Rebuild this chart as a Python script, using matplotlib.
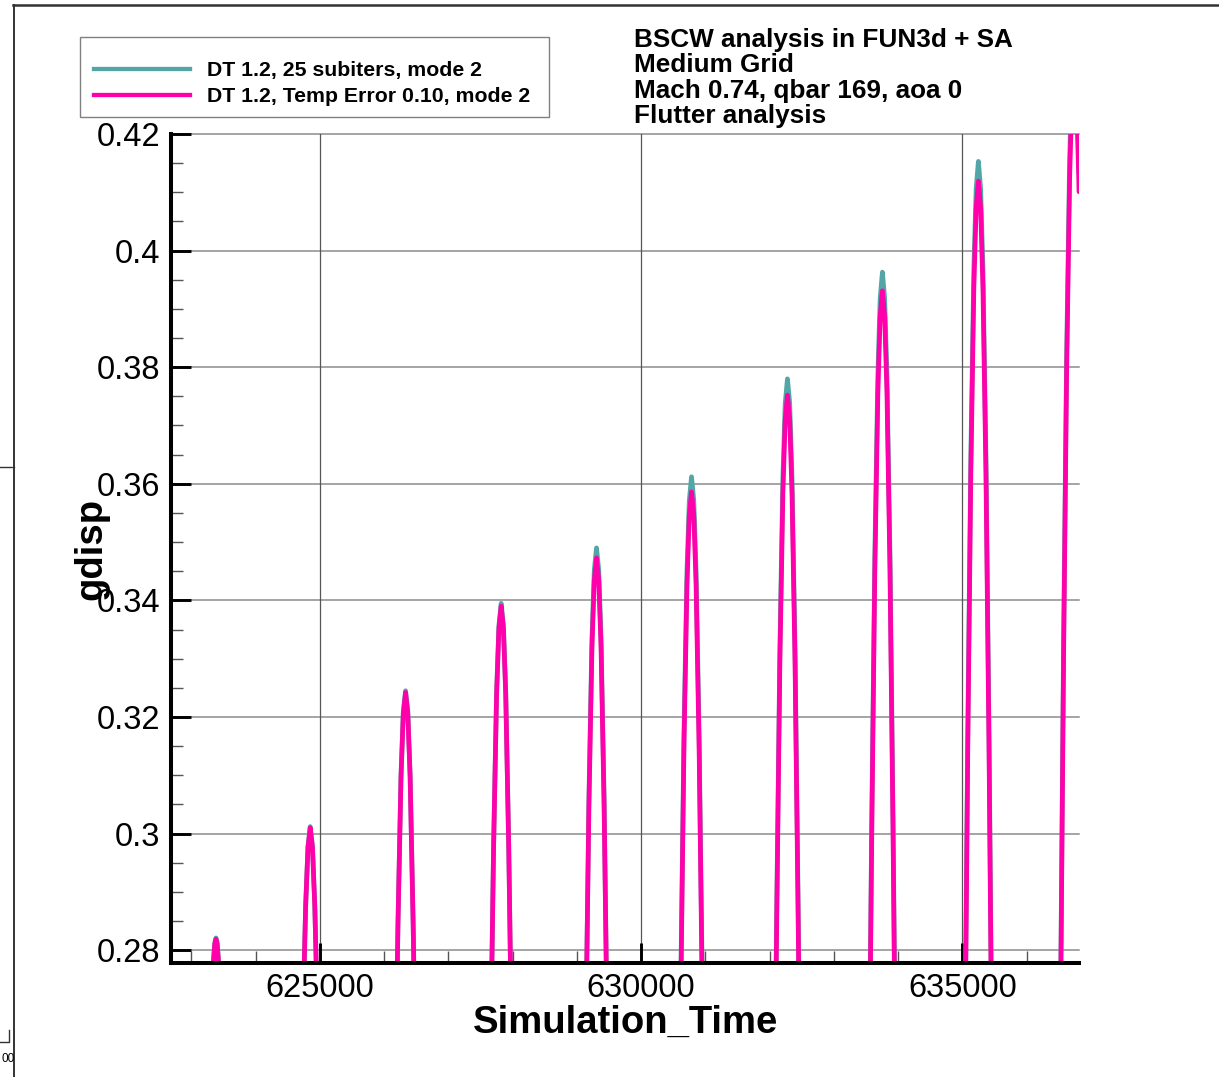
import numpy as np
import matplotlib
matplotlib.use('Agg')
import matplotlib.pyplot as plt
from matplotlib.lines import Line2D
from matplotlib.patches import Rectangle
from matplotlib.ticker import FixedLocator, MultipleLocator, FuncFormatter

plt.rcParams['font.family'] = ['Liberation Sans', 'DejaVu Sans']

# --- data: one list per visible hump (Simulation_Time, gdisp) ---
hump_times = [
    [623330, 623347, 623364, 623382, 623400, 623417, 623434],
    [624750, 624778, 624814, 624849, 624884, 624920, 624948],
    [626201, 626215, 626262, 626298, 626333, 626368, 626404, 626451, 626465],
    [627673, 627703, 627750, 627786, 627821, 627856, 627892, 627939, 627969],
    [629150, 629187, 629234, 629270, 629305, 629340, 629376, 629423, 629460],
    [630619, 630666, 630713, 630749, 630784, 630819, 630855, 630902, 630949],
    [632100, 632112, 632159, 632206, 632242, 632277, 632312, 632348, 632395, 632442, 632454],
    [633567, 633590, 633637, 633684, 633720, 633755, 633790, 633826, 633873, 633920, 633943],
    [635051, 635084, 635131, 635178, 635214, 635249, 635284, 635320, 635367, 635414, 635447],
    [636532, 636575, 636622, 636669, 636705, 636740, 636775, 636811, 636815],
]
# DT 1.2, 25 subiters, mode 2
subiter_vals = [
    [0.275, 0.2789, 0.2813, 0.2821, 0.2813, 0.2789, 0.275],
    [0.275, 0.2877, 0.2978, 0.3012, 0.2978, 0.2877, 0.275],
    [0.275, 0.2848, 0.3100, 0.3209, 0.3245, 0.3209, 0.3100, 0.2848, 0.275],
    [0.275, 0.2979, 0.3243, 0.3357, 0.3395, 0.3357, 0.3243, 0.2979, 0.275],
    [0.275, 0.3063, 0.3334, 0.3451, 0.3490, 0.3451, 0.3334, 0.3063, 0.275],
    [0.2763, 0.3170, 0.3451, 0.3571, 0.3612, 0.3571, 0.3451, 0.3170, 0.2763],
    [0.2768, 0.2891, 0.3317, 0.3611, 0.3738, 0.3780, 0.3738, 0.3611, 0.3317, 0.2891, 0.2768],
    [0.2772, 0.3031, 0.3478, 0.3786, 0.3918, 0.3963, 0.3918, 0.3786, 0.3478, 0.3031, 0.2772],
    [0.2778, 0.3176, 0.3645, 0.3968, 0.4106, 0.4153, 0.4106, 0.3968, 0.3645, 0.3176, 0.2778],
    [0.2772, 0.3327, 0.3817, 0.4156, 0.4301, 0.4350, 0.4301, 0.4156, 0.4133],
]
# DT 1.2, Temp Error 0.10, mode 2
temperr_vals = [
    [0.275, 0.2787, 0.2811, 0.2819, 0.2811, 0.2787, 0.275],
    [0.275, 0.2876, 0.2976, 0.3010, 0.2976, 0.2876, 0.275],
    [0.275, 0.2845, 0.3097, 0.3206, 0.3242, 0.3206, 0.3097, 0.2845, 0.275],
    [0.275, 0.2975, 0.3239, 0.3352, 0.3390, 0.3352, 0.3239, 0.2975, 0.275],
    [0.275, 0.3048, 0.3318, 0.3434, 0.3473, 0.3434, 0.3318, 0.3048, 0.275],
    [0.2743, 0.3147, 0.3426, 0.3546, 0.3586, 0.3546, 0.3426, 0.3147, 0.2743],
    [0.275, 0.2870, 0.3293, 0.3584, 0.3710, 0.3752, 0.3710, 0.3584, 0.3293, 0.2870, 0.275],
    [0.275, 0.3007, 0.3450, 0.3755, 0.3887, 0.3931, 0.3887, 0.3755, 0.3450, 0.3007, 0.275],
    [0.275, 0.3150, 0.3615, 0.3935, 0.4073, 0.4119, 0.4073, 0.3935, 0.3615, 0.3150, 0.275],
    [0.275, 0.3302, 0.3789, 0.4124, 0.4269, 0.4317, 0.4269, 0.4124, 0.4101],
]

labels = ['DT 1.2, 25 subiters, mode 2', 'DT 1.2, Temp Error 0.10, mode 2']
colors = ['#52a6a6', '#ff00aa']
title_lines = ['BSCW analysis in FUN3d + SA', 'Medium Grid',
               'Mach 0.74, qbar 169, aoa 0', 'Flutter analysis']

y_ticks = [0.28, 0.30, 0.32, 0.34, 0.36, 0.38, 0.40, 0.42]
x_ticks = [625000, 630000, 635000]


def join_humps(times, vals):
    # put a gap between humps so nothing is drawn below the axis
    xs, ys = [], []
    for t, v in zip(times, vals):
        xs += t + [np.nan]
        ys += v + [np.nan]
    return xs, ys


W, H = 1219, 1077
fig = plt.figure(figsize=(W / 100, H / 100), dpi=100)
ax = fig.add_axes([171 / W, 1 - 963 / H, 908 / W, 829 / H])

for vals, c in zip([subiter_vals, temperr_vals], colors):
    xs, ys = join_humps(hump_times, vals)
    ax.plot(xs, ys, color=c, lw=3.4, solid_joinstyle='round',
            solid_capstyle='round', zorder=3)

ax.set_xlim(622682, 636815)
ax.set_ylim(0.2778, 0.42)

# grid
for yv in y_ticks:
    ax.axhline(yv, color='#8c8c8c', lw=1.1, zorder=1, clip_on=False)
for xv in x_ticks:
    ax.axvline(xv, color='#555555', lw=0.9, zorder=1)

# spines / ticks
for s in ['top', 'right']:
    ax.spines[s].set_visible(False)
for s in ['left', 'bottom']:
    ax.spines[s].set_linewidth(2.9)
    ax.spines[s].set_zorder(4)

ax.xaxis.set_major_locator(FixedLocator(x_ticks))
ax.xaxis.set_minor_locator(MultipleLocator(1000))
ax.yaxis.set_major_locator(FixedLocator(y_ticks))
ax.yaxis.set_minor_locator(MultipleLocator(0.005))
ax.yaxis.set_major_formatter(FuncFormatter(lambda v, p: '%g' % round(v, 3)))
ax.xaxis.set_major_formatter(FuncFormatter(lambda v, p: '%d' % v))

ax.tick_params(which='major', direction='in', length=14.5, width=2.1,
               color='black', labelsize=23.5, top=False, right=False)
ax.tick_params(axis='x', which='major', pad=7)
ax.tick_params(axis='y', which='major', pad=8)
ax.tick_params(which='minor', direction='in', length=8.8, width=1.0,
               color='#555555', top=False, right=False)

ax.set_xlabel('Simulation_Time', fontsize=27.5, fontweight='bold', va='baseline')
ax.xaxis.set_label_coords(0.5, -(1033 - 963) / 829)
ax.set_ylabel('gdisp', fontsize=27.5, fontweight='bold', va='baseline', ha='center')
ax.yaxis.set_label_coords((101 - 171) / 908, 0.5)

# legend box (drawn by hand to match placement)
fig.add_artist(Rectangle((80 / W, 1 - 117 / H), (549 - 80) / W, (117 - 37) / H,
                         transform=fig.transFigure, fill=False,
                         edgecolor='#808080', lw=1.0))
for i, (lab, c) in enumerate(zip(labels, colors)):
    yl = 69.3 + i * 25.8
    fig.add_artist(Line2D([94 / W, 190 / W], [1 - yl / H] * 2,
                          transform=fig.transFigure, color=c, lw=3.1))
    fig.text(207 / W, 1 - (yl + 6.8) / H, lab, fontsize=15.3, fontweight='bold',
             va='baseline', ha='left')

# annotation block
for i, line in enumerate(title_lines):
    fig.text(634 / W, 1 - (46.7 + i * 25.6) / H, line, fontsize=18.8,
             fontweight='bold', va='baseline', ha='left')

# page frame remnants
fig.add_artist(Line2D([13 / W, 1], [1 - 5 / H] * 2, transform=fig.transFigure,
                      color='#333333', lw=1.8))
fig.add_artist(Line2D([14 / W, 14 / W], [0, 1 - 5 / H], transform=fig.transFigure,
                      color='#333333', lw=1.4))
fig.add_artist(Line2D([0, 14 / W], [1 - 467 / H] * 2, transform=fig.transFigure,
                      color='#333333', lw=1.0))
fig.add_artist(Line2D([0, 9 / W, 9 / W], [1 - 1042 / H, 1 - 1042 / H, 1 - 1030 / H],
                      transform=fig.transFigure, color='#333333', lw=1.0))
fig.text(1 / W, 1 - 1062 / H, '00', fontsize=8.5, ha='left', va='baseline')

fig.savefig('out.png', dpi=100)
